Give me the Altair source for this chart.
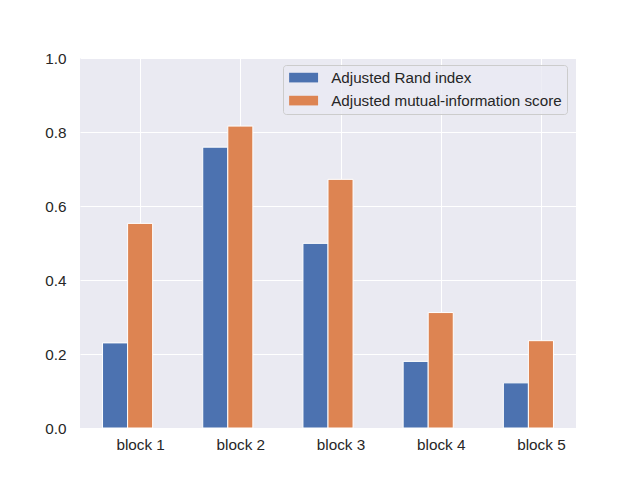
import altair as alt
import pandas as pd

blocks = ["block 1", "block 2", "block 3", "block 4", "block 5"]
ari = [0.230, 0.759, 0.499, 0.180, 0.122]
ami = [0.553, 0.816, 0.672, 0.312, 0.236]
series = ["Adjusted Rand index", "Adjusted mutual-information score"]
colors = ["#4C72B0", "#DD8452"]

rows = []
for i, b in enumerate(blocks):
    rows.append({"idx": i, "block": b, "series": series[0], "sidx": 0, "value": ari[i]})
    rows.append({"idx": i, "block": b, "series": series[1], "sidx": 1, "value": ami[i]})
df = pd.DataFrame(rows)

FONT = "Liberation Sans"

chart = (
    alt.Chart(df)
    .transform_calculate(
        xs="datum.idx - 0.375 + datum.sidx * 0.25",
        xe="datum.idx - 0.125 + datum.sidx * 0.25",
    )
    .mark_bar(stroke="white", strokeWidth=1)
    .encode(
        x=alt.X(
            "xs:Q",
            scale=alt.Scale(domain=[-0.6, 4.35], nice=False, zero=False),
            axis=alt.Axis(
                values=[0, 1, 2, 3, 4],
                labelExpr="'block ' + (datum.value + 1)",
                title=None,
                grid=True,
                gridColor="white",
                gridWidth=1,
                domain=False,
                ticks=False,
                labelFlush=False,
                labelPadding=9,
                labelFont=FONT,
                labelFontSize=15.3,
                labelColor="#262626",
            ),
        ),
        x2="xe:Q",
        y=alt.Y(
            "value:Q",
            scale=alt.Scale(domain=[0, 1], nice=False),
            axis=alt.Axis(
                values=[0, 0.2, 0.4, 0.6, 0.8, 1.0],
                format=".1f",
                title=None,
                grid=True,
                gridColor="white",
                gridWidth=1,
                domain=False,
                ticks=False,
                labelFlush=False,
                labelPadding=14,
                labelFont=FONT,
                labelFontSize=15.3,
                labelColor="#262626",
            ),
        ),
        y2=alt.datum(0),
        color=alt.Color(
            "series:N",
            scale=alt.Scale(domain=series, range=colors),
            legend=alt.Legend(
                title=None,
                orient="none",
                legendX=203,
                legendY=7,
                symbolType="M-3,-1H3V1H-3Z",
                symbolSize=93,
                symbolOffset=8,
                symbolStrokeWidth=0,
                symbolOpacity=1,
                labelFont=FONT,
                labelFontSize=15.2,
                labelColor="#262626",
                labelLimit=400,
                labelOffset=20,
                rowPadding=7,
                padding=5,
                fillColor="rgba(234,234,242,0.8)",
                strokeColor="#CCCCCC",
                cornerRadius=3,
            ),
        ),
    )
    .properties(
        width=496,
        height=370,
        autosize=alt.AutoSizeParams(type="none"),
        padding={"left": 72, "top": 50, "right": 56, "bottom": 44},
        background="white",
    )
    .configure_view(fill="#EAEAF2", stroke=None)
)

chart.save("out.html", embed_options={"renderer": "svg", "actions": False})
